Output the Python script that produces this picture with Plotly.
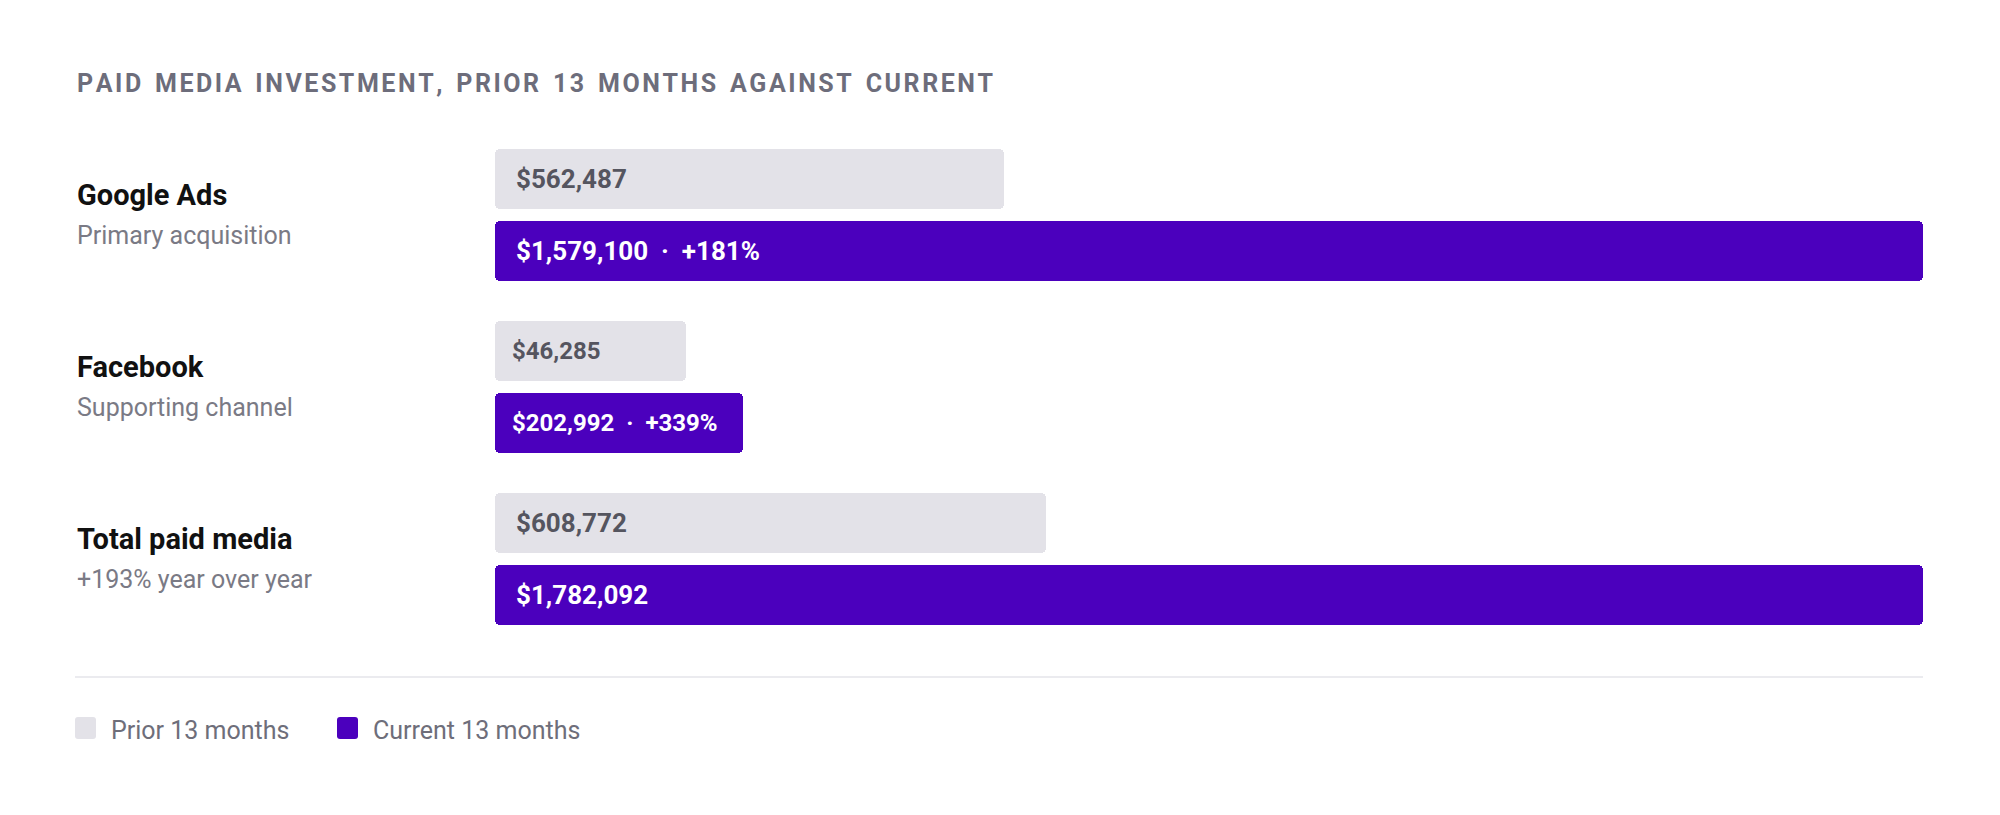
import plotly.graph_objects as go

# ---- data ----
channels = ["Google Ads", "Facebook", "Total paid media"]
subtitles = ["Primary acquisition", "Supporting channel", "+193% year over year"]
prior = [562487, 46285, 608772]
current = [1579100, 202992, 1782092]
growth = ["+181%", "+339%", None]
series_names = ["Prior 13 months", "Current 13 months"]
title_text = "PAID MEDIA INVESTMENT, PRIOR 13 MONTHS AGAINST CURRENT"

W, H = 2000, 815
PRIOR_COLOR = "#e3e2e8"
CURRENT_COLOR = "#4b00bd"
FONT = "Roboto"

# plot area in px
X0, X1 = 495, 1923
LEFT = 75
# bars scaled to the largest channel (total is clamped at full width)
SCALE_MAX = max(current[:2])
px_per_unit = (X1 - X0) / SCALE_MAX

MIN_BAR_PX = 191
CHAR_PX = 11.9
PAD = 19
PAD_NARROW = 15

GROUP_TOP = 149
GROUP_PITCH = 172
BAR_H = 60
BAR_GAP = 12


def fmt(v):
    return f"${v:,.0f}"


def label_for(i, which):
    if which == 0:
        return fmt(prior[i])
    s = fmt(current[i])
    if growth[i]:
        s += "\u00a0\u00a0·\u00a0\u00a0" + growth[i]
    return s


def bar_len(v, text):
    # CSS-like min-width for the label, clamped at 100%
    min_px = max(MIN_BAR_PX, len(text) * CHAR_PX + 2 * 17)
    return min(max(v, min_px / px_per_unit), SCALE_MAX)


def px(x):
    return x / W


def py(y):
    return 1 - y / H


def rounded_rect(x0, y0, x1, y1, r):
    # path in paper coords, given px values
    return (f"M{px(x0 + r)},{py(y0)} L{px(x1 - r)},{py(y0)} "
            f"Q{px(x1)},{py(y0)} {px(x1)},{py(y0 + r)} "
            f"L{px(x1)},{py(y1 - r)} Q{px(x1)},{py(y1)} {px(x1 - r)},{py(y1)} "
            f"L{px(x0 + r)},{py(y1)} Q{px(x0)},{py(y1)} {px(x0)},{py(y1 - r)} "
            f"L{px(x0)},{py(y0 + r)} Q{px(x0)},{py(y0)} {px(x0 + r)},{py(y0)} Z")


fig = go.Figure()
annotations = []

for k, (vals, color, name) in enumerate([(prior, PRIOR_COLOR, series_names[0]),
                                         (current, CURRENT_COLOR, series_names[1])]):
    ys, lens, texts = [], [], []
    for i in range(len(channels)):
        t = label_for(i, k)
        ys.append(GROUP_TOP + i * GROUP_PITCH + k * (BAR_H + BAR_GAP) + BAR_H / 2)
        lens.append(bar_len(vals[i], t))
        texts.append(t)
    # two overlapping halves so both ends get rounded corners
    fig.add_trace(go.Bar(
        y=ys, x=[-l / 2 for l in lens], base=[l / 2 for l in lens],
        orientation="h", width=BAR_H, marker=dict(color=color, cornerradius=5, line_width=0),
        name=name, showlegend=False, hoverinfo="skip"))
    fig.add_trace(go.Bar(
        y=ys, x=[l * 0.6 for l in lens], base=[l * 0.4 for l in lens],
        orientation="h", width=BAR_H, marker=dict(color=color, cornerradius=5, line_width=0),
        name=name, showlegend=False,
        customdata=[fmt(v) for v in vals],
        hovertemplate="%{customdata}<extra>" + name + "</extra>"))
    for i, t in enumerate(texts):
        narrow = lens[i] * px_per_unit < 300
        annotations.append(dict(
            x=0, y=ys[i], xref="x", yref="y", xshift=PAD_NARROW if narrow else PAD,
            xanchor="left", yanchor="middle", text=t, showarrow=False,
            font=dict(family=FONT, size=24 if narrow else 26, weight=700,
                      color="#55555f" if k == 0 else "#ffffff")))

# row labels
for i, (c, s) in enumerate(zip(channels, subtitles)):
    mid = GROUP_TOP + i * GROUP_PITCH + BAR_H + BAR_GAP / 2
    annotations.append(dict(x=px(LEFT), y=py(mid - 20), xref="paper", yref="paper",
                            xanchor="left", yanchor="middle", text=c, showarrow=False,
                            font=dict(family=FONT, size=29, weight=700, color="#111111")))
    annotations.append(dict(x=px(LEFT), y=py(mid + 20), xref="paper", yref="paper",
                            xanchor="left", yanchor="middle", text=s, showarrow=False,
                            font=dict(family=FONT, size=25, color="#7a7a85")))

# title with letter spacing (hair spaces, a little extra at word gaps)
spaced = "\u200a".join(title_text).replace(" ", " \u200a")
annotations.append(dict(x=px(LEFT), y=py(84), xref="paper", yref="paper",
                        xanchor="left", yanchor="middle", text=spaced, showarrow=False,
                        font=dict(family=FONT, size=25, weight=700, color="#6d6d7b")))

shapes = [dict(type="line", xref="paper", yref="paper", x0=px(LEFT), x1=px(X1),
               y0=py(677), y1=py(677), line=dict(color="#ebebef", width=2))]

# legend
leg_x = [LEFT, 337]
for j, (name, color) in enumerate(zip(series_names, [PRIOR_COLOR, CURRENT_COLOR])):
    x0 = leg_x[j]
    shapes.append(dict(type="path", xref="paper", yref="paper",
                       path=rounded_rect(x0, 717, x0 + 21, 739, 3),
                       fillcolor=color, line_width=0))
    annotations.append(dict(x=px(x0 + 34), y=py(730), xref="paper", yref="paper",
                            xanchor="left", yanchor="middle", text=name, showarrow=False,
                            font=dict(family=FONT, size=25, color="#6e6e7a")))

fig.update_layout(
    width=W, height=H,
    margin=dict(l=0, r=0, t=0, b=0),
    paper_bgcolor="white", plot_bgcolor="white",
    barmode="overlay", bargap=0,
    showlegend=False,
    xaxis=dict(domain=[px(X0), px(X1)], range=[0, SCALE_MAX], visible=False, fixedrange=True),
    yaxis=dict(domain=[0, 1], range=[H, 0], visible=False, fixedrange=True),
    annotations=annotations,
    shapes=shapes,
)

fig.write_html("out.html", config={"displayModeBar": False},
               post_script="document.body.style.margin='0';")
